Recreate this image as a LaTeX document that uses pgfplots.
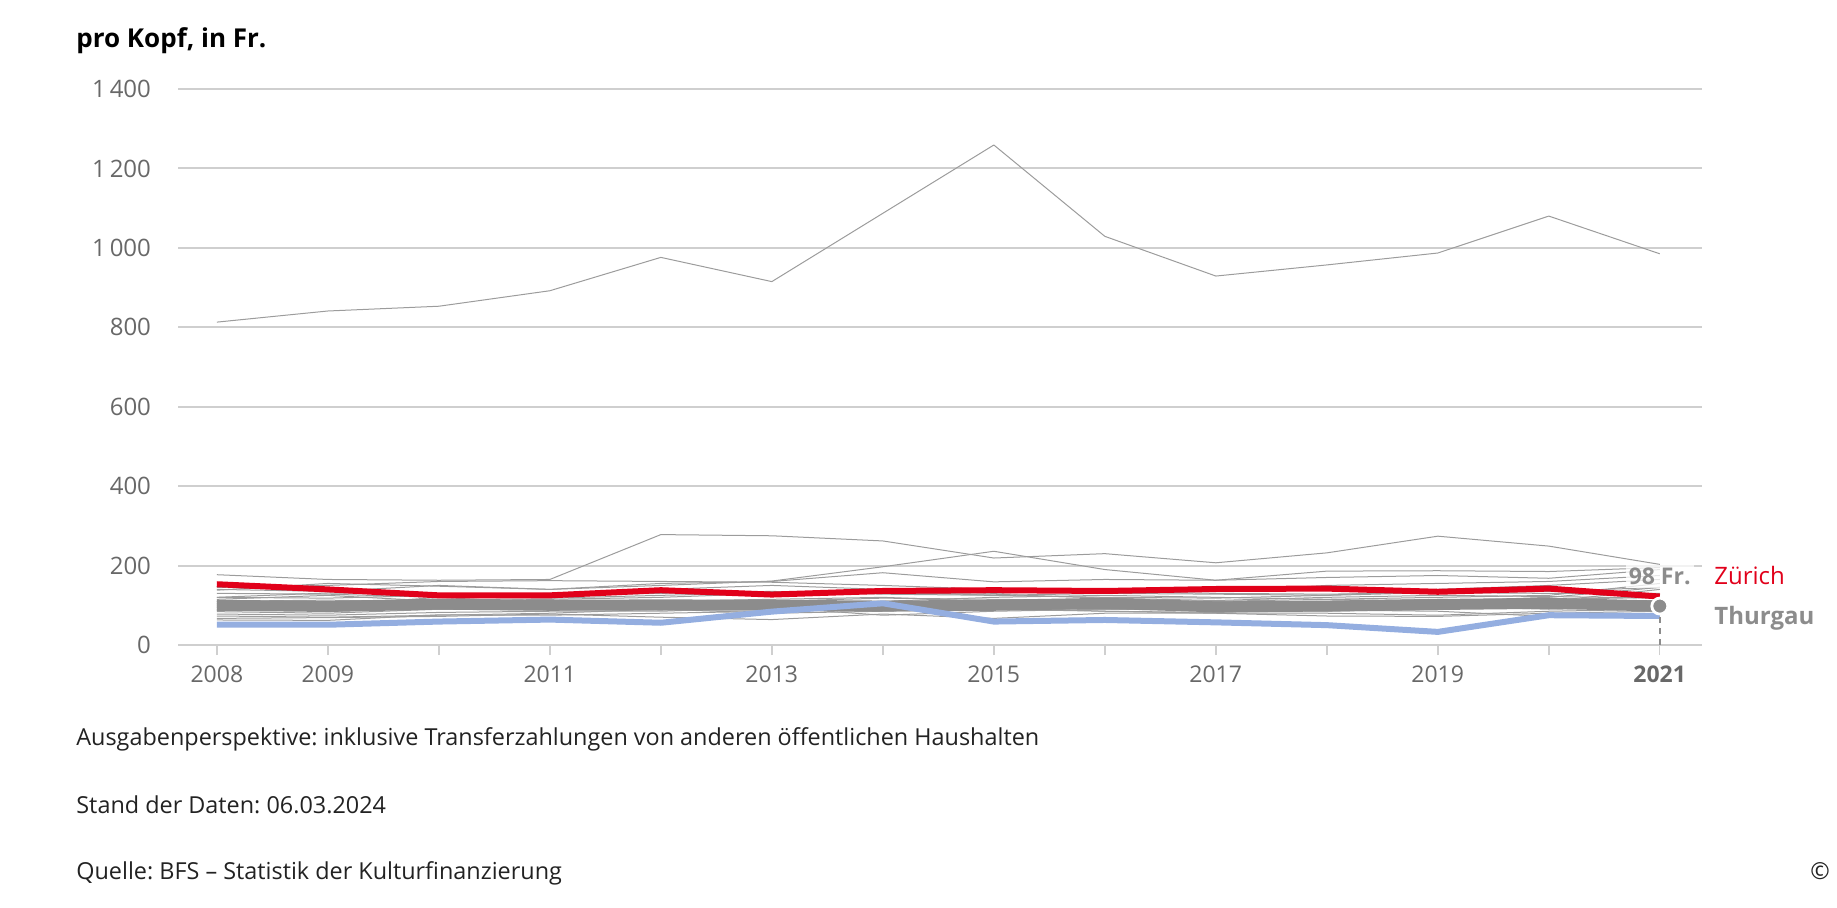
\documentclass[border=0pt]{standalone}
\usepackage{fontspec}
\setmainfont{Open Sans}
\usepackage{pgfplots}
\pgfplotsset{compat=1.18}
\frenchspacing

\definecolor{zhred}{HTML}{E1001A}
\definecolor{tgray}{HTML}{8C8C8C}
\definecolor{thingray}{HTML}{9C9C9C}
\definecolor{lblue}{HTML}{94AEE0}
\definecolor{gridc}{HTML}{CFCFCF}
\definecolor{tickc}{HTML}{686868}
\definecolor{notec}{HTML}{222222}

\begin{document}
\begin{tikzpicture}
\path[use as bounding box] (0,0) rectangle (918.5pt,-454pt);

\begin{axis}[
  at={(89pt,-322.5pt)}, anchor=south west,
  scale only axis, width=762pt, height=278pt,
  xmin=2007.65, xmax=2021.38,
  ymin=0, ymax=1400,
  axis x line*=bottom,
  axis y line*=left,
  x axis line style={draw=gridc, line width=1pt, -},
  y axis line style={draw=none},
  ymajorgrids,
  grid style={draw=gridc, line width=1pt},
  xtick={2008,...,2021},
  xticklabels={2008,2009,,2011,,2013,,2015,,2017,,2019,,\textbf{2021}},
  ytick={0,200,...,1400},
  yticklabels={0,200,400,600,800,1\,000,1\,200,1\,400},
  tick align=outside,
  major tick length=5pt,
  xtick style={draw=gridc, line width=0.8pt},
  ytick style={draw=none},
  tick label style={text=tickc},
  xticklabel style={font=\fontsize{11.5}{13}\selectfont, yshift=-2pt},
  yticklabel style={font=\fontsize{12}{14}\selectfont, xshift=-5pt},
  every axis plot/.append style={line join=round, no markers},
  clip=false,
]
% uebrige Kantone, duenn
\addplot[thingray, line width=0.5pt] coordinates {(2008,813)(2009,841)(2010,853)(2011,892)(2012,976)(2013,915)(2014,1087)(2015,1259)(2016,1029)(2017,929)(2018,957)(2019,987)(2020,1080)(2021,985)};
\addplot[thingray, line width=0.5pt] coordinates {(2008,177)(2009,165)(2010,163)(2011,165)(2012,278)(2013,275)(2014,262)(2015,219)(2016,230)(2017,207)(2018,232)(2019,274)(2020,249)(2021,203)};
\addplot[thingray, line width=0.5pt] coordinates {(2008,140)(2009,135)(2010,150)(2011,140)(2012,150)(2013,161)(2014,197)(2015,236)(2016,190)(2017,163)(2018,186)(2019,187)(2020,185)(2021,195)};
\addplot[thingray, line width=0.5pt] coordinates {(2008,145)(2009,150)(2010,160)(2011,162)(2012,160)(2013,158)(2014,150)(2015,140)(2016,135)(2017,130)(2018,128)(2019,132)(2020,135)(2021,145)};
\addplot[thingray, line width=0.5pt] coordinates {(2008,138)(2009,155)(2010,148)(2011,140)(2012,155)(2013,160)(2014,182)(2015,159)(2016,165)(2017,163)(2018,170)(2019,175)(2020,168)(2021,190)};
\addplot[thingray, line width=0.5pt] coordinates {(2008,120)(2009,118)(2010,125)(2011,130)(2012,140)(2013,150)(2014,140)(2015,130)(2016,140)(2017,135)(2018,150)(2019,155)(2020,160)(2021,175)};
\addplot[thingray, line width=0.5pt] coordinates {(2008,115)(2009,125)(2010,110)(2011,115)(2012,120)(2013,130)(2014,135)(2015,125)(2016,120)(2017,118)(2018,125)(2019,140)(2020,150)(2021,165)};
\addplot[thingray, line width=0.5pt] coordinates {(2008,109)(2009,100)(2010,120)(2011,105)(2012,110)(2013,115)(2014,120)(2015,110)(2016,112)(2017,110)(2018,115)(2019,120)(2020,125)(2021,155)};
\addplot[thingray, line width=0.5pt] coordinates {(2008,103)(2009,110)(2010,95)(2011,100)(2012,95)(2013,100)(2014,110)(2015,120)(2016,125)(2017,120)(2018,115)(2019,110)(2020,120)(2021,145)};
\addplot[thingray, line width=0.5pt] coordinates {(2008,96)(2009,105)(2010,100)(2011,110)(2012,105)(2013,95)(2014,100)(2015,105)(2016,110)(2017,105)(2018,110)(2019,115)(2020,110)(2021,140)};
\addplot[thingray, line width=0.5pt] coordinates {(2008,90)(2009,92)(2010,98)(2011,95)(2012,100)(2013,105)(2014,95)(2015,100)(2016,98)(2017,100)(2018,105)(2019,95)(2020,100)(2021,110)};
\addplot[thingray, line width=0.5pt] coordinates {(2008,84)(2009,80)(2010,90)(2011,88)(2012,92)(2013,90)(2014,100)(2015,95)(2016,92)(2017,90)(2018,95)(2019,100)(2020,95)(2021,105)};
\addplot[thingray, line width=0.5pt] coordinates {(2008,78)(2009,75)(2010,82)(2011,85)(2012,85)(2013,95)(2014,75)(2015,85)(2016,90)(2017,88)(2018,85)(2019,90)(2020,100)(2021,100)};
\addplot[thingray, line width=0.5pt] coordinates {(2008,73)(2009,70)(2010,75)(2011,80)(2012,90)(2013,80)(2014,85)(2015,90)(2016,85)(2017,80)(2018,80)(2019,75)(2020,85)(2021,90)};
\addplot[thingray, line width=0.5pt] coordinates {(2008,67)(2009,69)(2010,72)(2011,78)(2012,70)(2013,64)(2014,78)(2015,67)(2016,80)(2017,80)(2018,73)(2019,72)(2020,80)(2021,85)};
\addplot[thingray, line width=0.5pt] coordinates {(2008,63)(2009,62)(2010,76)(2011,75)(2012,80)(2013,85)(2014,90)(2015,95)(2016,85)(2017,82)(2018,88)(2019,85)(2020,72)(2021,80)};
\addplot[thingray, line width=0.5pt] coordinates {(2008,110)(2009,113)(2010,108)(2011,112)(2012,105)(2013,110)(2014,118)(2015,115)(2016,112)(2017,110)(2018,108)(2019,112)(2020,115)(2021,120)};
\addplot[thingray, line width=0.5pt] coordinates {(2008,120)(2009,131)(2010,128)(2011,125)(2012,130)(2013,135)(2014,128)(2015,125)(2016,130)(2017,128)(2018,125)(2019,132)(2020,130)(2021,130)};
\addplot[thingray, line width=0.5pt] coordinates {(2008,100)(2009,84)(2010,96)(2011,92)(2012,88)(2013,95)(2014,100)(2015,98)(2016,95)(2017,102)(2018,100)(2019,98)(2020,90)(2021,95)};
\addplot[thingray, line width=0.5pt] coordinates {(2008,87)(2009,95)(2010,105)(2011,100)(2012,98)(2013,92)(2014,100)(2015,102)(2016,100)(2017,98)(2018,102)(2019,105)(2020,110)(2021,112)};
\addplot[thingray, line width=0.5pt] coordinates {(2008,130)(2009,128)(2010,120)(2011,118)(2012,125)(2013,132)(2014,130)(2015,128)(2016,118)(2017,112)(2018,120)(2019,125)(2020,122)(2021,118)};
\addplot[thingray, line width=0.5pt] coordinates {(2008,95)(2009,98)(2010,102)(2011,108)(2012,112)(2013,108)(2014,104)(2015,100)(2016,96)(2017,94)(2018,98)(2019,100)(2020,102)(2021,100)};
\addplot[thingray, line width=0.5pt] coordinates {(2008,105)(2009,102)(2010,100)(2011,98)(2012,100)(2013,98)(2014,105)(2015,108)(2016,110)(2017,106)(2018,104)(2019,108)(2020,112)(2021,108)};
% Thurgau
\addplot[tgray, line width=5.5pt] coordinates {(2008,100)(2009,97)(2010,103)(2011,100)(2012,101)(2013,100)(2014,98)(2015,100)(2016,105)(2017,96)(2018,98)(2019,102)(2020,105)(2021,98)};
% blaue Linie
\addplot[lblue, line width=3pt] coordinates {(2008,51)(2009,51)(2010,59)(2011,64)(2012,56)(2013,84)(2014,105)(2015,59)(2016,63)(2017,57)(2018,50)(2019,33)(2020,75)(2021,73)};
% Zuerich
\addplot[zhred, line width=3pt] coordinates {(2008,153)(2009,140)(2010,125)(2011,125)(2012,138)(2013,127)(2014,136)(2015,138)(2016,136)(2017,141)(2018,142)(2019,134)(2020,142)(2021,122)};
% Markierung 2021
\addplot[tgray, line width=0.7pt, dash pattern=on 3pt off 2.5pt] coordinates {(2021,0)(2021,98)};
\addplot[only marks, mark=*, mark size=4pt, mark options={fill=tgray, draw=white, line width=1.4pt}] coordinates {(2021,98)};
\end{axis}

\node[anchor=base west, inner sep=0pt, font=\fontsize{13}{15}\selectfont\bfseries] at (38pt,-24pt) {pro Kopf, in Fr.};

\node[anchor=base east, inner sep=1.5pt, fill=white, fill opacity=0.75, text opacity=1, text=tgray, font=\fontsize{11.5}{13}\selectfont\bfseries] at (847pt,-292.5pt) {98 Fr.};
\node[anchor=base west, inner sep=0pt, text=zhred, font=\fontsize{12}{14}\selectfont] at (857pt,-292.5pt) {Zürich};
\node[anchor=base west, inner sep=0pt, text=tgray, font=\fontsize{12}{14}\selectfont\bfseries] at (857pt,-312.5pt) {Thurgau};

\begin{scope}[every node/.style={anchor=base west, inner sep=0pt, text=notec, font=\fontsize{11.7}{13.5}\selectfont}]
\node at (38pt,-373pt) {Ausgabenperspektive: inklusive Transferzahlungen von anderen öffentlichen Haushalten};
\node at (38pt,-406.5pt) {Stand der Daten: 06.03.2024};
\node at (38pt,-439.5pt) {Quelle: BFS – Statistik der Kulturfinanzierung};
\node at (905pt,-439.5pt) {© BFS};
\end{scope}
\end{tikzpicture}
\end{document}
